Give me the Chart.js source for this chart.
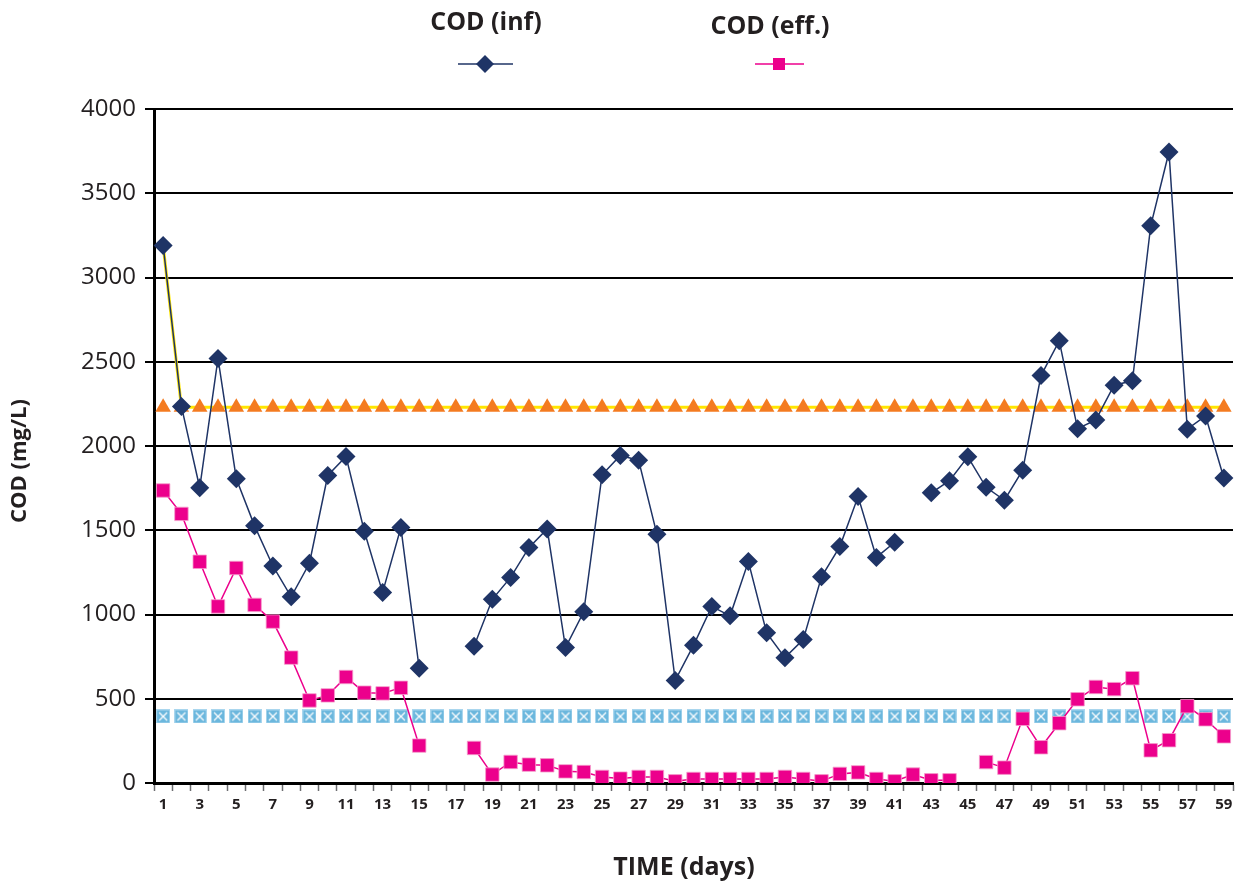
<!DOCTYPE html>
<html>
<head>
<meta charset="utf-8">
<script src="https://cdn.jsdelivr.net/npm/chart.js@4"></script>
<style>
  html, body { margin: 0; padding: 0; background: #fff; }
  #wrap { width: 1247px; height: 884px; position: relative; }
</style>
</head>
<body>
<div id="wrap"><canvas id="chart-cod"></canvas></div>
<script>
days = [
    '1', '2', '3', '4', '5', '6', '7', '8', '9', '10',
    '11', '12', '13', '14', '15', '16', '17', '18', '19', '20',
    '21', '22', '23', '24', '25', '26', '27', '28', '29', '30',
    '31', '32', '33', '34', '35', '36', '37', '38', '39', '40',
    '41', '42', '43', '44', '45', '46', '47', '48', '49', '50',
    '51', '52', '53', '54', '55', '56', '57', '58', '59'
]

cod_inf = [
    3190, 2235, 1752, 2520, 1806, 1526, 1288, 1105, 1304, 1825,
    1938, 1494, 1131, 1516, 681, null, null, 812, 1090, 1220,
    1397, 1508, 804, 1016, 1829, 1944, 1915, 1476, 609, 817,
    1048, 992, 1314, 891, 744, 851, 1224, 1403, 1700, 1339,
    1429, null, 1722, 1794, 1936, 1755, 1678, 1856, 2418, 2624,
    2103, 2155, 2361, 2387, 3307, 3745, 2100, 2178, 1810
]

cod_eff = [
    1736, 1597, 1313, 1048, 1276, 1057, 958, 744, 490, 520,
    629, 536, 532, 565, 222, null, null, 208, 50, 125,
    109, 105, 69, 65, 36, 26, 36, 36, 10, 24,
    24, 24, 24, 24, 36, 24, 10, 54, 63, 24,
    10, 50, 16, 16, null, 124, 91, 381, 212, 355,
    497, 570, 557, 622, 194, 254, 456, 378, 277
]

// upper limit (triangles) and the yellow line that joins it from day 1
limit_high = [
    2230, 2230, 2230, 2230, 2230, 2230, 2230, 2230, 2230, 2230,
    2230, 2230, 2230, 2230, 2230, 2230, 2230, 2230, 2230, 2230,
    2230, 2230, 2230, 2230, 2230, 2230, 2230, 2230, 2230, 2230,
    2230, 2230, 2230, 2230, 2230, 2230, 2230, 2230, 2230, 2230,
    2230, 2230, 2230, 2230, 2230, 2230, 2230, 2230, 2230, 2230,
    2230, 2230, 2230, 2230, 2230, 2230, 2230, 2230, 2230
]
limit_line = [
    3190, 2230, 2230, 2230, 2230, 2230, 2230, 2230, 2230, 2230,
    2230, 2230, 2230, 2230, 2230, 2230, 2230, 2230, 2230, 2230,
    2230, 2230, 2230, 2230, 2230, 2230, 2230, 2230, 2230, 2230,
    2230, 2230, 2230, 2230, 2230, 2230, 2230, 2230, 2230, 2230,
    2230, 2230, 2230, 2230, 2230, 2230, 2230, 2230, 2230, 2230,
    2230, 2230, 2230, 2230, 2230, 2230, 2230, 2230, 2230
]
limit_low = [
    395, 395, 395, 395, 395, 395, 395, 395, 395, 395,
    395, 395, 395, 395, 395, 395, 395, 395, 395, 395,
    395, 395, 395, 395, 395, 395, 395, 395, 395, 395,
    395, 395, 395, 395, 395, 395, 395, 395, 395, 395,
    395, 395, 395, 395, 395, 395, 395, 395, 395, 395,
    395, 395, 395, 395, 395, 395, 395, 395, 395
]

inf_color = '#1f3466'
eff_color = '#ec008c'
tri_color = '#f47b20'
yellow_color = '#ffe600'
box_color = '#6bb7dd'
font_family = '"Open Sans", "DejaVu Sans", sans-serif'

function make_box_marker() {
    const c = document.createElement('canvas')
    c.width = 14
    c.height = 14
    const g = c.getContext('2d')
    g.fillStyle = box_color
    g.fillRect(0, 0, 14, 14)
    g.strokeStyle = '#a9d6ee'
    g.lineWidth = 1
    g.strokeRect(0.5, 0.5, 13, 13)
    g.strokeStyle = '#ffffff'
    g.lineWidth = 1.2
    g.beginPath()
    g.moveTo(3, 3); g.lineTo(11, 11)
    g.moveTo(11, 3); g.lineTo(3, 11)
    g.stroke()
    return c
}

// legend (text above the sample) and axis titles
const extras = {
    id: 'extras',
    afterDraw(chart) {
        const ctx = chart.ctx
        ctx.save()
        ctx.fillStyle = '#231f20'
        ctx.textAlign = 'center'
        ctx.textBaseline = 'middle'
        ctx.font = 'bold 25px ' + font_family
        ctx.fillText('COD (inf)', 486, 23)
        ctx.fillText('COD (eff.)', 770, 27)

        ctx.strokeStyle = inf_color
        ctx.lineWidth = 1.5
        ctx.beginPath(); ctx.moveTo(458, 64); ctx.lineTo(513, 64); ctx.stroke()
        ctx.fillStyle = inf_color
        ctx.beginPath()
        ctx.moveTo(485, 55); ctx.lineTo(494, 64); ctx.lineTo(485, 73); ctx.lineTo(476, 64)
        ctx.closePath(); ctx.fill()

        ctx.strokeStyle = eff_color
        ctx.beginPath(); ctx.moveTo(755, 64); ctx.lineTo(804, 64); ctx.stroke()
        ctx.fillStyle = eff_color
        ctx.fillRect(773, 58, 12, 12)

        ctx.fillStyle = '#231f20'
        ctx.font = 'bold 25px ' + font_family
        ctx.fillText('TIME (days)', 684, 868)
        ctx.translate(20, 461)
        ctx.rotate(-Math.PI / 2)
        ctx.font = 'bold 22px ' + font_family
        ctx.fillText('COD (mg/L)', 0, 0)
        ctx.restore()
    }
}

cod_chart = new Chart(
    document.getElementById('chart-cod').getContext('2d'), {
        type: 'line',
        data: {
            labels: days,
            datasets: [{
                label: 'COD (inf)',
                data: cod_inf,
                borderColor: inf_color,
                backgroundColor: inf_color,
                borderWidth: 1.5,
                pointStyle: 'rectRot',
                pointRadius: 9.5,
                pointBorderWidth: 0,
                tension: 0
            }, {
                label: 'COD (eff.)',
                data: cod_eff,
                borderColor: eff_color,
                backgroundColor: eff_color,
                borderWidth: 1.5,
                pointStyle: 'rect',
                pointRadius: 9.5,
                pointBorderColor: '#f59ccb',
                pointBorderWidth: 0.8,
                tension: 0
            }, {
                label: 'limit',
                data: limit_high,
                showLine: false,
                backgroundColor: tri_color,
                borderColor: tri_color,
                pointStyle: 'triangle',
                pointRadius: 9,
                pointBorderWidth: 0
            }, {
                label: 'limit line',
                data: limit_line,
                borderColor: yellow_color,
                borderWidth: 3,
                pointRadius: 0,
                tension: 0
            }, {
                label: 'limit low',
                data: limit_low,
                showLine: false,
                pointStyle: make_box_marker(),
                pointRadius: 7
            }]
        },
        options: {
            responsive: true,
            maintainAspectRatio: false,
            animation: false,
            layout: {
                padding: { top: 109, right: 14, left: 0, bottom: 0 }
            },
            plugins: {
                legend: { display: false },
                tooltip: { enabled: false }
            },
            scales: {
                x: {
                    offset: true,
                    afterFit: (s) => { s.height = 101 },
                    grid: {
                        offset: true,
                        drawOnChartArea: false,
                        drawTicks: true,
                        tickLength: 8,
                        tickColor: '#6d6e71',
                        tickWidth: 1.5
                    },
                    border: { color: '#000', width: 3 },
                    ticks: {
                        autoSkip: false,
                        maxRotation: 0,
                        padding: 5,
                        color: '#231f20',
                        font: { family: font_family, size: 15, weight: 'bold' },
                        callback: function (v, i) {
                            return i % 2 == 0 ? days[i] : ''
                        }
                    }
                },
                y: {
                    min: 0,
                    max: 4000,
                    afterFit: (s) => { s.width = 154 },
                    grid: {
                        color: '#000',
                        lineWidth: 2,
                        tickLength: 9,
                        tickColor: '#000'
                    },
                    border: { color: '#000', width: 3 },
                    ticks: {
                        stepSize: 500,
                        padding: 9,
                        color: '#231f20',
                        font: { family: font_family, size: 24 },
                        callback: function (v) {
                            return String(v)
                        }
                    }
                }
            }
        },
        plugins: [extras]
    });
</script>
</body>
</html>
